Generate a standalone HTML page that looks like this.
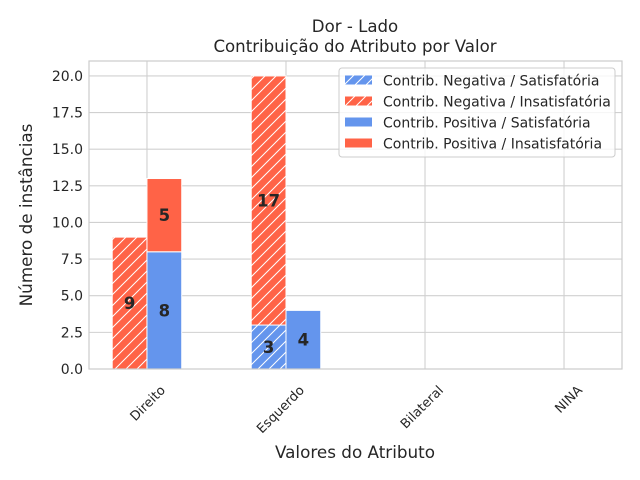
<!DOCTYPE html>
<html><head><meta charset="utf-8"><style>
body{margin:0;background:#fff}
svg{display:block;font-family:"DejaVu Sans","Liberation Sans",sans-serif}
</style></head><body>
<svg id="chart" width="640" height="480" viewBox="0 0 640 480">
<defs>
<pattern id="hatch" patternUnits="userSpaceOnUse" width="11" height="11">
<path d="M-1,1 l2,-2 M0,11 l11,-11 M10,12 l2,-2" stroke="#fff" stroke-width="1"/>
</pattern>
</defs>
<rect x="0" y="0" width="640" height="480" fill="#fff"/>
<g id="grid"></g>
<g id="bars"></g>
<rect x="89" y="61" width="533" height="308" fill="none" stroke="#ccc" stroke-width="1.2"/>
<g id="ticks"></g>
<text x="355" y="32" text-anchor="middle" font-size="16.6" fill="#262626">Dor - Lado</text>
<text x="355" y="52" text-anchor="middle" font-size="16.6" fill="#262626">Contribuição do Atributo por Valor</text>
<text x="355" y="458" text-anchor="middle" font-size="16.8" fill="#262626">Valores do Atributo</text>
<text transform="translate(32,215) rotate(-90)" text-anchor="middle" font-size="16.8" fill="#262626">Número de instâncias</text>
<g>
<rect x="339" y="68" width="276" height="89" rx="3" fill="#fff" fill-opacity="0.8" stroke="#ccc"/>
<g id="legend"></g>
</g>
</svg>
<script>
const categories = ["Direito","Esquerdo","Bilateral","NINA"];
const negSat = [0,3,0,0];
const negInsat = [9,17,0,0];
const posSat = [8,4,0,0];
const posInsat = [5,0,0,0];
const yTicks = [0,2.5,5,7.5,10,12.5,15,17.5,20];
const yTickLabels = ["0.0","2.5","5.0","7.5","10.0","12.5","15.0","17.5","20.0"];
const legendLabels = ["Contrib. Negativa / Satisfatória","Contrib. Negativa / Insatisfatória","Contrib. Positiva / Satisfatória","Contrib. Positiva / Insatisfatória"];

const NS="http://www.w3.org/2000/svg";
const L=89,R=622,T=61,B=369,YMAX=21.02,XMIN=-0.417,XMAX=3.417;
const BLUE="#6495ed",RED="#ff6347";
const xs=v=>L+(v-XMIN)/(XMAX-XMIN)*(R-L);
const ys=v=>B-v/YMAX*(B-T);
function mk(tag,attrs,parent){const e=document.createElementNS(NS,tag);for(const k in attrs)e.setAttribute(k,attrs[k]);parent.appendChild(e);return e;}
const grid=document.getElementById('grid'),bars=document.getElementById('bars'),ticks=document.getElementById('ticks'),leg=document.getElementById('legend');

yTicks.forEach((t,i)=>{
  const g=mk('line',{x1:L,x2:R,y1:ys(t),y2:ys(t),stroke:'#d0d0d0','stroke-width':1.1},grid);
  
  
  const tx=mk('text',{x:L-6,y:ys(t)+5,'text-anchor':'end','font-size':14,fill:'#262626'},ticks);
  tx.textContent=yTickLabels[i];
  
  
});
categories.forEach((c,i)=>{
  const g=mk('line',{x1:xs(i),x2:xs(i),y1:T,y2:B,stroke:'#d0d0d0','stroke-width':1.1},grid);
  
  
  const tx=mk('text',{transform:`translate(${xs(i)+19},${B+22}) rotate(-45)`,'text-anchor':'end','font-size':13,fill:'#262626'},ticks);
  tx.textContent=c;
  
  
});
const W=0.25;
function seg(x0,base,val,color,hatch,name){
  if(!val)return;
  const x=xs(x0),w=xs(x0+W)-xs(x0),y=ys(base+val),h=ys(base)-ys(base+val);
  const r=mk('rect',{x:x,y:y,width:w,height:h,fill:color,stroke:'#fff','stroke-width':1},bars);
  
  
  if(hatch){const hp=mk('rect',{x:x,y:y,width:w,height:h,fill:'url(#hatch)'},bars);
    
    }
  const t=mk('text',{x:x+w/2,y:ys(base+val/2)+6,'text-anchor':'middle','font-size':16.5,'font-weight':'bold',fill:'#262626'},bars);
  t.textContent=val;
  
  
}
categories.forEach((c,i)=>{
  seg(i-W,0,negSat[i],BLUE,true,'bar-neg-sat');
  seg(i-W,negSat[i],negInsat[i],RED,true,'bar-neg-insat');
  seg(i,0,posSat[i],BLUE,false,'bar-pos-sat');
  seg(i,posSat[i],posInsat[i],RED,false,'bar-pos-insat');
});
const lc=[BLUE,RED,BLUE,RED],lh=[true,true,false,false];
legendLabels.forEach((lab,i)=>{
  const y=80.5+i*21;
  const r=mk('rect',{x:345,y:y-5,width:27,height:9,fill:lc[i]},leg);
  
  
  if(lh[i]){const hp=mk('rect',{x:345,y:y-5,width:27,height:9,fill:'url(#hatch)'},leg);
    
    }
  const t=mk('text',{x:383,y:y+5,'font-size':14,fill:'#262626'},leg);
  t.textContent=lab;
  
  
});
</script>
</body></html>
